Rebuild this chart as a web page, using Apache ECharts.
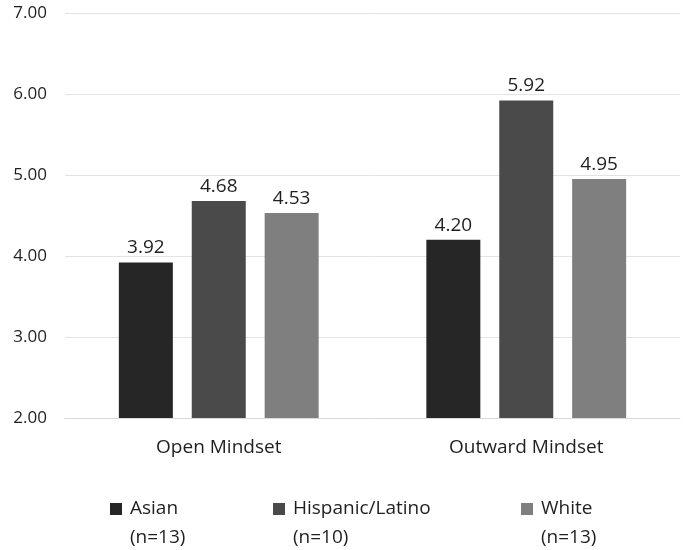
<!DOCTYPE html>
<html>
<head>
<meta charset="utf-8">
<script src="https://cdn.jsdelivr.net/npm/echarts@6/dist/echarts.min.js"></script>
<style>
  html, body { margin: 0; padding: 0; background: #fff; }
  #chart { width: 686px; height: 550px; }
</style>
</head>
<body>
<div id="chart"></div>
<script>
const categories = ["Open Mindset", "Outward Mindset"];
const groupNames = ["Asian\n(n=13)", "Hispanic/Latino\n(n=10)", "White\n(n=13)"];
const asianValues = [3.92, 4.20];
const hispanicValues = [4.68, 5.92];
const whiteValues = [4.53, 4.95];

const colors = ["#262626", "#4a4a4a", "#7f7f7f"];
const font = "'Open Sans', 'Noto Sans', sans-serif";
const textColor = "#1f1f1f";

// square placed in a tall box so it lines up with the first text line
const legendIcon = "path://M0,0h0.01v0.01h-0.01z M0,9h12v12h-12z M0,57.99h0.01v0.01h-0.01z";
const legendLeft = [105, 268, 516];

const chart = echarts.init(document.getElementById("chart"));

const seriesValues = [asianValues, hispanicValues, whiteValues];
const series = groupNames.map((name, i) => ({
  name: name,
  type: "bar",
  barWidth: 54,
  barGap: "35%",
  itemStyle: { color: colors[i] },
  label: {
    show: true,
    position: "top",
    distance: 5,
    formatter: (p) => p.value.toFixed(2),
    fontFamily: font,
    fontSize: 19,
    color: textColor,
  },
  data: seriesValues[i],
}));

const legends = groupNames.map((name, i) => ({
  data: [name],
  left: legendLeft[i],
  top: 489,
  orient: "horizontal",
  icon: legendIcon,
  itemWidth: 12,
  itemHeight: 58,
  itemGap: 8,
  selectedMode: false,
  textStyle: {
    fontFamily: font,
    fontSize: 19,
    color: textColor,
    lineHeight: 29,
    padding: [0, 0, 0, 3],
  },
}));

chart.setOption({
  animation: false,
  grid: {
    left: 65,
    right: 6,
    top: 13,
    bottom: 132,
  },
  legend: legends,
  xAxis: {
    type: "category",
    data: categories,
    axisTick: { show: false },
    axisLine: { lineStyle: { color: "#d9d9d9", width: 1 } },
    axisLabel: {
      margin: 20,
      fontFamily: font,
      fontSize: 19,
      color: textColor,
    },
  },
  yAxis: {
    type: "value",
    min: 2,
    max: 7,
    interval: 1,
    axisLine: { show: false },
    axisTick: { show: false },
    splitLine: { lineStyle: { color: "#e3e3e3", width: 1 } },
    axisLabel: {
      margin: 18,
      fontFamily: font,
      fontSize: 17,
      color: textColor,
      formatter: (v) => v.toFixed(2),
    },
  },
  series: series,
});
</script>
</body>
</html>
